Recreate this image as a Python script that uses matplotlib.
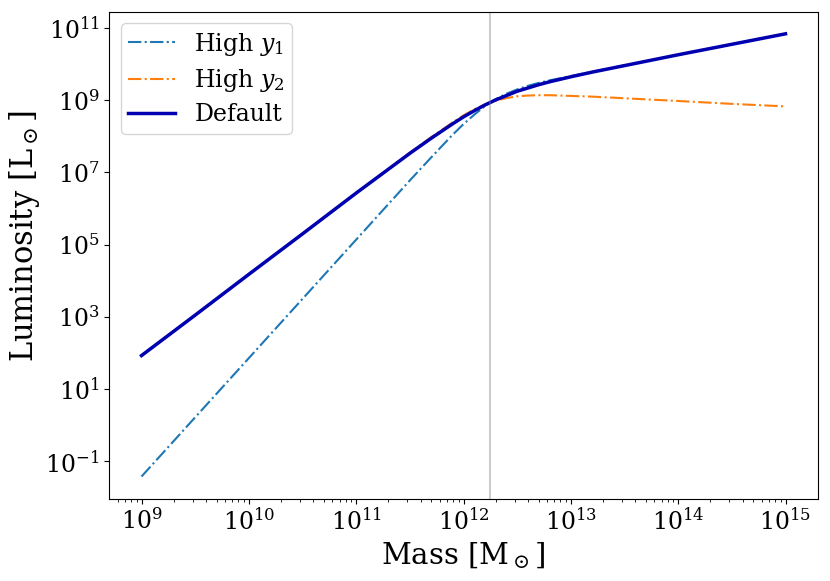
import numpy as np
import matplotlib
matplotlib.use("Agg")
import matplotlib.pyplot as plt

plt.rcParams['font.family'] = ['DejaVu Serif']
plt.rcParams['mathtext.fontset'] = 'dejavuserif'

# log10 of halo mass [Msun]
log_mass = [9.0, 9.5, 10.0, 10.5, 11.0, 11.25, 11.5, 11.7, 11.9, 12.0, 12.1, 12.2,
            12.3, 12.4, 12.5, 12.6, 12.7, 12.8, 12.9, 13.0, 13.2, 13.4, 13.6,
            13.8, 14.0, 14.5, 15.0]

# log10 of luminosity [Lsun]
log_lum_y1 = [-1.42, 0.22, 1.86, 3.50, 5.14, 5.96, 6.78, 7.42, 8.05, 8.34, 8.60, 8.84,
              9.03, 9.18, 9.30, 9.40, 9.48, 9.55, 9.61, 9.67, 9.79, 9.91, 10.02,
              10.14, 10.26, 10.55, 10.84]
log_lum_y2 = [1.93, 3.05, 4.18, 5.30, 6.43, 6.99, 7.55, 7.98, 8.39, 8.58, 8.75, 8.88,
              8.99, 9.06, 9.11, 9.13, 9.14, 9.14, 9.13, 9.12, 9.10, 9.07, 9.04,
              9.01, 8.98, 8.90, 8.83]
log_lum_default = [1.93, 3.05, 4.18, 5.30, 6.43, 6.98, 7.53, 7.95, 8.35, 8.54, 8.71, 8.87,
                   9.01, 9.13, 9.25, 9.34, 9.43, 9.51, 9.58, 9.65, 9.78, 9.90, 10.02,
                   10.14, 10.26, 10.55, 10.84]

# pivot mass (vertical line)
m_pivot = 10**12.25

mass = np.power(10.0, log_mass)

fig = plt.figure(figsize=(8.3, 5.81), dpi=100)
ax = fig.add_axes([0.1317, 0.1417, 0.8535, 0.8382])

ax.plot(mass, np.power(10.0, log_lum_y1), '-.', color='C0', lw=1.5, label='High $y_1$')
ax.plot(mass, np.power(10.0, log_lum_y2), '-.', color='C1', lw=1.5, label='High $y_2$')
ax.plot(mass, np.power(10.0, log_lum_default), '-', color='#0000b0', lw=2.5, label='Default')
ax.axvline(m_pivot, color='gray', alpha=0.4, lw=1.5)

ax.set_xscale('log')
ax.set_yscale('log')
ax.set_yticks([1e-1, 1e1, 1e3, 1e5, 1e7, 1e9, 1e11])
ax.tick_params(labelsize=17)
ax.set_xlabel(r'Mass [M$_\odot$]', fontsize=21)
ax.set_ylabel(r'Luminosity [L$_\odot$]', fontsize=22)
ax.yaxis.set_label_coords(-0.095, 0.54)
ax.legend(loc='upper left', fontsize=17, labelspacing=0.4, borderpad=0.3)

fig.savefig('out.png', dpi=100)
